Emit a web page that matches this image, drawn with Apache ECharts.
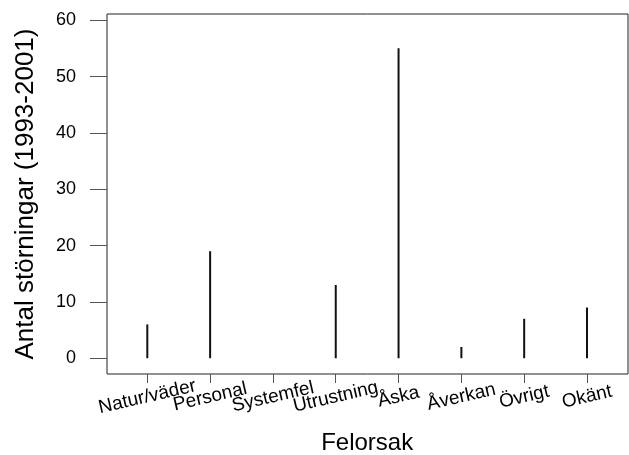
<!DOCTYPE html>
<html>
<head>
<meta charset="utf-8">
<script src="https://cdn.jsdelivr.net/npm/echarts@6/dist/echarts.min.js"></script>
<style>
  html, body { margin: 0; padding: 0; background: #fff; }
  #main { width: 629px; height: 455px; }
</style>
</head>
<body>
<div id="main"></div>
<script>
// felorsaker och antal störningar
const categories = ['Natur/väder', 'Personal', 'Systemfel', 'Utrustning', 'Åska', 'Åverkan', 'Övrigt', 'Okänt']
const counts = [6, 19, 0, 13, 55, 2, 7, 9]
const yTicks = [0, 10, 20, 30, 40, 50, 60]

const chart = echarts.init(document.getElementById('main'), null, { renderer: 'canvas' })
const font = 'Liberation Sans, Arial, sans-serif'
const yMin = -2.8
const yMax = 61.1

const option = {
    animation: false,
    backgroundColor: '#fff',
    grid: [
        // box + y axis
        { left: 107, right: 1, top: 14, bottom: 81, show: true, borderColor: '#222', borderWidth: 1, outerBoundsMode: 'none', containLabel: false },
        // categories (R puts the bars a bit further in than half a band)
        { left: 115.9, right: 10.6, top: 14, bottom: 81, show: false, outerBoundsMode: 'none', containLabel: false }
    ],
    xAxis: [{
        gridIndex: 0,
        type: 'value',
        show: false
    }, {
        gridIndex: 1,
        type: 'category',
        data: categories,
        name: 'Felorsak',
        nameLocation: 'middle',
        nameGap: 57,
        nameTextStyle: { fontFamily: font, fontSize: 24, color: '#000' },
        axisLine: { show: false, onZero: false },
        splitLine: { show: false },
        axisTick: {
            show: true,
            length: 9,
            alignWithLabel: true,
            interval: 0,
            lineStyle: { color: '#555' }
        },
        axisLabel: {
            interval: 0,
            rotate: 13,
            align: 'center',
            verticalAlign: 'middle',
            margin: 23,
            fontFamily: font,
            fontSize: 19,
            color: '#000'
        }
    }],
    yAxis: [{
        gridIndex: 0,
        type: 'value',
        min: yMin,
        max: yMax,
        name: 'Antal störningar (1993-2001)',
        nameLocation: 'middle',
        nameGap: 68,
        nameTextStyle: { fontFamily: font, fontSize: 26, color: '#000' },
        axisLine: { show: false },
        splitLine: { show: false },
        axisTick: {
            show: true,
            length: 17,
            customValues: yTicks,
            lineStyle: { color: '#555' }
        },
        axisLabel: {
            customValues: yTicks,
            margin: 31,
            fontFamily: font,
            fontSize: 18,
            color: '#000'
        }
    }, {
        gridIndex: 1,
        type: 'value',
        min: yMin,
        max: yMax,
        show: false
    }],
    series: [{
        type: 'bar',
        xAxisIndex: 1,
        yAxisIndex: 1,
        barWidth: 2,
        itemStyle: { color: '#111' },
        data: counts
    }]
}

chart.setOption(option)
</script>
</body>
</html>
